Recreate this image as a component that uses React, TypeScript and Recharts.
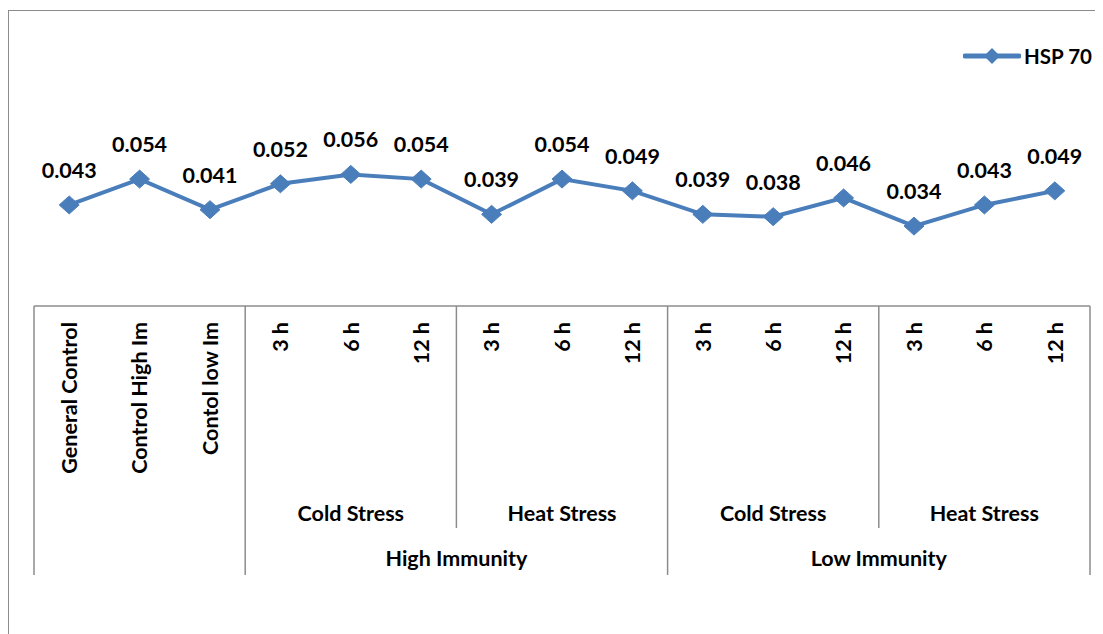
import React from 'react';
import { LineChart, Line, XAxis, YAxis, Legend, LabelList } from 'recharts';

// categories along the x axis, with the two grouping levels below them
const categories = [
  'General Control', 'Control High Im', 'Contol low Im',
  '3 h', '6 h', '12 h',
  '3 h', '6 h', '12 h',
  '3 h', '6 h', '12 h',
  '3 h', '6 h', '12 h',
];
const stressGroups = [
  '', '', '',
  'Cold Stress', 'Cold Stress', 'Cold Stress',
  'Heat Stress', 'Heat Stress', 'Heat Stress',
  'Cold Stress', 'Cold Stress', 'Cold Stress',
  'Heat Stress', 'Heat Stress', 'Heat Stress',
];
const immunityGroups = [
  '', '', '',
  'High Immunity', 'High Immunity', 'High Immunity',
  'High Immunity', 'High Immunity', 'High Immunity',
  'Low Immunity', 'Low Immunity', 'Low Immunity',
  'Low Immunity', 'Low Immunity', 'Low Immunity',
];
const hsp70 = [0.043, 0.054, 0.041, 0.052, 0.056, 0.054, 0.039, 0.054, 0.049, 0.039, 0.038, 0.046, 0.034, 0.043, 0.049];

const data = categories.map((c, i) => ({ key: String(i), name: c, hsp: hsp70[i] }));

const CHART_W = 1095;
const CHART_H = 626;
const MARGIN = { top: 63, right: 13, bottom: 58, left: 26 };
const STEP = (CHART_W - MARGIN.left - MARGIN.right) / categories.length;

const FONT = 'Lato, "Open Sans", sans-serif';
const BLUE = '#4a7ebb';
const GRID = '#8c8c8c';
const AXIS_FS = 21.5;

// start index of each run of equal labels
const runs = (labels: string[]) => {
  const out: { start: number; len: number; label: string }[] = [];
  labels.forEach((l, i) => {
    if (i > 0 && labels[i - 1] === l) out[out.length - 1].len++;
    else out.push({ start: i, len: 1, label: l });
  });
  return out;
};
const stressRuns = runs(stressGroups);
const immunityRuns = runs(immunityGroups);

const CategoryTick = (props: any) => {
  const { x, y, payload } = props;
  const i = Number(payload.value);
  const left = x - STEP / 2;
  const items: React.ReactNode[] = [];

  items.push(
    <text key="t" x={x} y={y + 16} dy="0.36em" transform={`rotate(-90, ${x}, ${y + 16})`}
      textAnchor="end" fontFamily={FONT} fontWeight={700} fontSize={AXIS_FS} fill="#000">
      {categories[i]}
    </text>
  );

  // separators before a group: full height if immunity group changes, else down to stress level
  const immStart = immunityRuns.find(r => r.start === i);
  const stressStart = stressRuns.find(r => r.start === i);
  if (immStart) {
    items.push(<line key="lf" x1={left} x2={left} y1={y} y2={y + 269} stroke={GRID} strokeWidth={1.5} />);
  } else if (stressStart) {
    items.push(<line key="lm" x1={left} x2={left} y1={y} y2={y + 222} stroke={GRID} strokeWidth={1.5} />);
  }
  if (i === categories.length - 1) {
    items.push(<line key="lr" x1={x + STEP / 2} x2={x + STEP / 2} y1={y} y2={y + 269} stroke={GRID} strokeWidth={1.5} />);
  }

  if (stressStart && stressStart.label) {
    const cx = x + ((stressStart.len - 1) * STEP) / 2;
    items.push(
      <text key="s" x={cx} y={y + 215} textAnchor="middle" fontFamily={FONT} fontWeight={700} fontSize={AXIS_FS} fill="#000">
        {stressStart.label}
      </text>
    );
  }
  if (immStart && immStart.label) {
    const cx = x + ((immStart.len - 1) * STEP) / 2;
    items.push(
      <text key="m" x={cx} y={y + 260} textAnchor="middle" fontFamily={FONT} fontWeight={700} fontSize={AXIS_FS} fill="#000">
        {immStart.label}
      </text>
    );
  }
  return <g>{items}</g>;
};

const Diamond = (props: any) => {
  const { cx, cy } = props;
  if (cx == null || cy == null) return null;
  return (
    <polygon points={`${cx},${cy - 9} ${cx + 10},${cy} ${cx},${cy + 9} ${cx - 10},${cy}`} fill={BLUE} stroke={BLUE} />
  );
};

const ValueLabel = (props: any) => {
  const { x, y, value } = props;
  return (
    <text x={x} y={y - 27} textAnchor="middle" fontFamily={FONT} fontWeight={700} fontSize={21.5} fill="#000">
      {Number(value).toFixed(3)}
    </text>
  );
};

const LegendContent = () => (
  <div style={{ display: 'flex', alignItems: 'center', fontFamily: FONT, fontWeight: 700, fontSize: 20.5 }}>
    <svg width={58} height={20}>
      <line x1={2} x2={56} y1={10} y2={10} stroke={BLUE} strokeWidth={5} strokeLinecap="round" />
      <polygon points="29,2 37,10 29,18 21,10" fill={BLUE} />
    </svg>
    <span style={{ marginLeft: 3 }}>HSP 70</span>
  </div>
);

export default function App() {
  return (
    <div style={{ position: 'relative', width: CHART_W, height: CHART_H }}>
      <div style={{ position: 'absolute', left: 0, top: 2, width: CHART_W, height: CHART_H - 2, borderLeft: `1.5px solid ${GRID}`, borderTop: `1.5px solid ${GRID}`, boxSizing: 'border-box' }} />
      <LineChart width={CHART_W} height={CHART_H} data={data} margin={MARGIN}>
        <XAxis dataKey="key" interval={0} tickLine={false} tickSize={0} tickMargin={0}
          padding={{ left: STEP / 2, right: STEP / 2 }}
          axisLine={{ stroke: GRID, strokeWidth: 1.5 }} height={270} tick={<CategoryTick />} />
        <YAxis hide domain={[0, 0.1]} />
        <Legend layout="vertical" align="center" verticalAlign="middle" content={<LegendContent />}
          wrapperStyle={{ top: 36, left: 955, width: 140 }} />
        <Line type="linear" dataKey="hsp" name="HSP 70" stroke={BLUE} strokeWidth={4}
          dot={<Diamond />} activeDot={false} isAnimationActive={false}>
          <LabelList dataKey="hsp" content={<ValueLabel />} />
        </Line>
      </LineChart>
    </div>
  );
}
